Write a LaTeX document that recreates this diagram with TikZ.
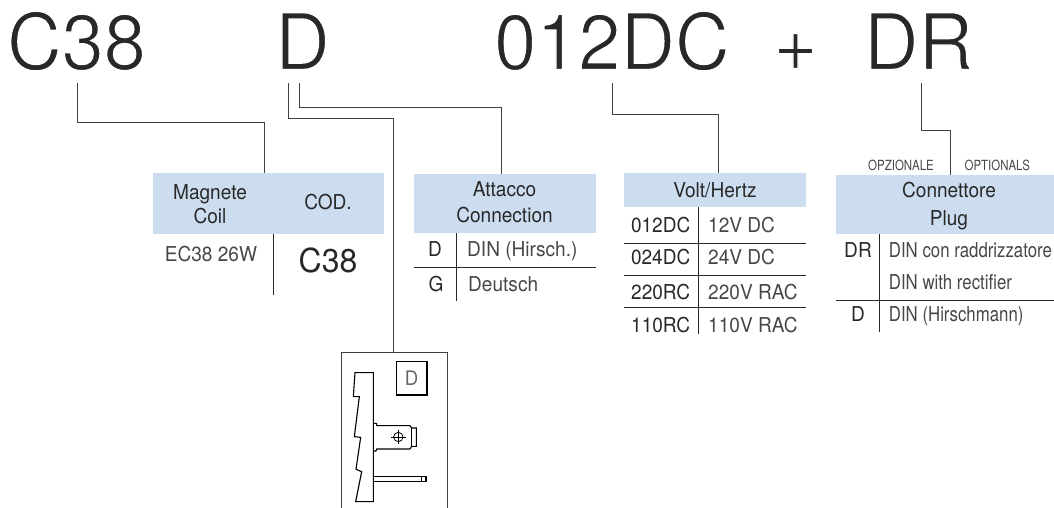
\documentclass[tikz,border=0pt]{standalone}
\usepackage{fontspec}
\setmainfont[FakeStretch=.93]{TeX Gyre Heros}
\newfontfamily\codefont[FakeStretch=.97]{TeX Gyre Heros}
\newfontfamily\condfont[FakeStretch=.82]{TeX Gyre Heros}
\definecolor{headblue}{RGB}{204,221,239}
\definecolor{inkgrey}{RGB}{40,40,40}
\newcommand{\thintxt}[1]{\special{pdf:code q 2 Tr 1 1 1 RG 1.3 w}#1\special{pdf:code Q}}
\tikzset{
  code/.style={font=\codefont\fontsize{78}{78}\selectfont,text=inkgrey,inner sep=0pt,text height=57pt,text depth=0pt},
  head/.style={fill=headblue,inner sep=0pt,anchor=north west},
  cell/.style={font=\fontsize{20.5}{20.5}\selectfont,text=inkgrey,inner sep=0pt,text height=14.5pt,text depth=0pt},
  lcell/.style={cell,anchor=west,text=black!72},
  ncell/.style={lcell,font=\condfont\fontsize{20.5}{20.5}\selectfont},
  small/.style={font=\condfont\fontsize{14}{14}\selectfont,text=black!72,inner sep=0pt},
  rule/.style={line width=1pt,color=inkgrey},
  lead/.style={line width=.9pt,color=black!75},
}
\begin{document}
\begin{tikzpicture}[x=1pt,y=-1pt]
  \useasboundingbox (0,0) rectangle (1054,508);
  % header bands
  \draw
    (153,173) node[head,minimum width=231pt,minimum height=61pt] (h1){}
    (414,174) node[head,minimum width=182pt,minimum height=59pt] (h2){}
    (624,173) node[head,minimum width=182pt,minimum height=34pt] (h3){}
    (836,175) node[head,minimum width=218pt,minimum height=59pt] (h4){};
  % ordering code
  \draw
    (76.5,41) node[code] (c38){\thintxt{C38}}
    (302.5,41) node[code] (d){\thintxt{D}}
    (612,41) node[code] (dc){\thintxt{012DC}}
    (795.5,42) node[code] (plus){\thintxt{+}}
    (918.5,41) node[code] (dr){\thintxt{DR}};
  % table texts
  \draw
    (210,192) node[cell] (t1a){Magnete}
    (210,216.5) node[cell] (t1b){Coil}
    (328,202) node[cell] (t1c){COD.}
    (211,254) node[cell,text=black!72] (t1d){EC38 26W}
    (328,260) node[cell,font=\codefont\fontsize{33}{33}\selectfont,text height=24pt] (t1e){C38}
    (504.5,189.5) node[cell] (t2a){Attacco}
    (504.5,215.5) node[cell] (t2b){Connection}
    (435,249) node[cell] (t2c){D}
    (467,249) node[lcell] (t2d){DIN (Hirsch.)}
    (436,284) node[cell] (t2e){G}
    (468,284) node[lcell] (t2f){Deutsch}
    (715,190) node[cell] (t3a){Volt/Hertz}
    (660.7,225.7) node[cell] (t3b){012DC}
    (708,225.7) node[lcell] (t3c){12V DC}
    (660.7,257.7) node[cell] (t3d){024DC}
    (708,257.7) node[lcell] (t3e){24V DC}
    (660.7,292) node[cell] (t3f){220RC}
    (708,292) node[lcell] (t3g){220V RAC}
    (660.7,325) node[cell] (t3h){110RC}
    (708,325) node[lcell] (t3i){110V RAC}
    (901,165.7) node[small] (t4a){OPZIONALE}
    (997.3,165.7) node[small] (t4b){OPTIONALS}
    (949,190.7) node[cell] (t4c){Connettore}
    (949,218) node[cell] (t4d){Plug}
    (858,250.7) node[cell] (t4e){DR}
    (888.7,250.7) node[ncell] (t4f){DIN con raddrizzatore}
    (888.7,282.7) node[ncell] (t4g){DIN with rectifier}
    (858,314) node[cell] (t4h){D}
    (888.7,314) node[ncell] (t4i){DIN (Hirschmann)};
  % free ends of the leaders and rules
  \draw
    (77,83) coordinate (a0) (264,122.5) coordinate (a1) (264,173) coordinate (a2)
    (288,83) coordinate (b0) (393,118) coordinate (b1) (393,352) coordinate (b2)
    (299,83) coordinate (e0) (501,107) coordinate (e1) (501,174) coordinate (e2)
    (612.5,83) coordinate (f0) (718,114.5) coordinate (f1) (718,173) coordinate (f2)
    (921.7,83) coordinate (g0) (950,130) coordinate (g1) (950,175) coordinate (g2)
    (341.7,508) coordinate (p0) (341.7,352) coordinate (p1)
    (447.3,352) coordinate (p2) (447.3,508) coordinate (p3);
  \begin{scope}[lead]
    \draw (a0) |- (a1) -- (a2);
    \draw (b0) |- (b1) -- (b2);
    \draw (e0) |- (e1) -- (e2);
    \draw (f0) |- (f1) -- (f2);
    \draw (g0) |- (g1) -- (g2);
    \draw (p0) -- (p1) -- (p2) -- (p3);
  \end{scope}
  \begin{scope}[rule]
    \draw (273.7,234) -- (273.7,295);
    \draw (456.7,233) -- (456.7,300.7);
    \draw (414,267.7) -- (595.7,267.7);
    \draw (698.3,207) -- (698.3,334);
    \draw (624,243.7) -- (806,243.7);
    \draw (624,275.7) -- (806,275.7);
    \draw (624,307.7) -- (806,307.7);
    \draw (879,234) -- (879,332.3);
    \draw (836,300.7) -- (1054,300.7);
  \end{scope}
  % terminal drawing
  \begin{scope}[shift={(320,340)},x=.3333pt,y=-.3333pt,line width=1.1pt]
    \draw (229,65) rectangle (321,165);
    \draw (275,115) node[font=\fontsize{20}{20}\selectfont,text=black!60,inner sep=0pt] (dbox){D};
    \draw (105,98) -- (160,98) -- (160,485) -- (107,485) -- (125,395) -- (108,388)
      -- (122,292) -- (103,290) -- (118,170) -- (100,170) -- cycle;
    \draw (160,250) -- (170,250) -- (170,257) -- (270,257) -- (275,264) -- (289,264)
      -- (289,319) -- (275,319) -- (270,327) -- (170,327) -- (168,333) -- (160,333);
    \draw (275,264) -- (275,319);
    \draw[line width=.8pt] (235,291) circle (14);
    \draw[line width=.8pt] (213,291) -- (257,291);
    \draw[line width=.8pt] (235,269) -- (235,313);
    \draw (160,409) rectangle (318,425);
    \draw (304,409) -- (304,425);
  \end{scope}
\end{tikzpicture}
\end{document}
